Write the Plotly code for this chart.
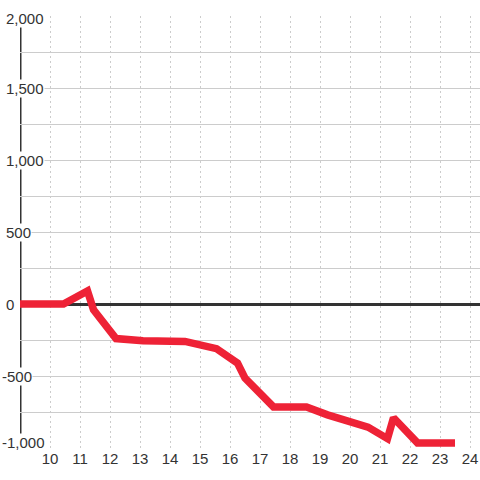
import plotly.graph_objects as go

# data
x_vals = [9, 10.45, 11.25, 11.45, 12.2, 13.1, 14.5, 15.35, 15.55, 16.25, 16.5,
          17.45, 18.55, 19.25, 19.5, 20.2, 20.6, 21.25, 21.45, 22.25, 23.5]
y_vals = [0, 0, 90, -40, -240, -255, -260, -305, -310, -410, -515,
          -715, -715, -770, -785, -840, -855, -935, -790, -965, -965]

x_ticks = list(range(10, 25))
y_labels = [2000, 1500, 1000, 500, 0, -500, -1000]

TEXT = '#333333'
GRID = '#cccccc'
RED = '#ee2236'
FONT = 'Liberation Sans, Arial, sans-serif'

fig = go.Figure()

fig.add_trace(go.Scatter(
    x=x_vals,
    y=y_vals,
    mode='lines',
    line=dict(color=RED, width=7.5),
    hoverinfo='skip',
    showlegend=False
))

# left axis bar
fig.add_shape(type='line', xref='x', yref='y', x0=9, x1=9, y0=-910, y1=1945,
              line=dict(color=TEXT, width=3), layer='below')

# y labels with white boxes that cut the axis bar
for v in y_labels:
    shift = 0
    if v == 2000:
        shift = -2
    elif v == -1000:
        shift = 6
    left_px = 1 if v < 0 else 5
    fig.add_annotation(
        x=(left_px - 20) / 460, xref='paper', y=v, yref='y',
        text=f'{v:,}', showarrow=False,
        xanchor='left', yanchor='middle', yshift=shift,
        bgcolor='white', borderpad=0,
        font=dict(family=FONT, size=15, color=TEXT)
    )

fig.update_layout(
    width=480,
    height=480,
    margin=dict(l=20, r=0, t=16, b=32, autoexpand=False),
    paper_bgcolor='white',
    plot_bgcolor='white',
    font=dict(family=FONT, size=15, color=TEXT),
    xaxis=dict(
        range=[9, 24.333],
        tickvals=x_ticks,
        ticks='',
        automargin=False,
        showline=False,
        zeroline=False,
        showgrid=True,
        gridcolor=GRID,
        griddash='2px,3px',
        tickfont=dict(family=FONT, size=15, color=TEXT)
    ),
    yaxis=dict(
        range=[-1000, 2000],
        dtick=250,
        automargin=False,
        showticklabels=False,
        ticks='',
        showline=False,
        showgrid=True,
        gridcolor=GRID,
        zeroline=True,
        zerolinecolor=TEXT,
        zerolinewidth=3
    )
)

# page has a default body margin, drop it so the figure sits at 0,0
fig.write_html('out.html', config={'displayModeBar': False},
               post_script="document.body.style.margin='0';")
